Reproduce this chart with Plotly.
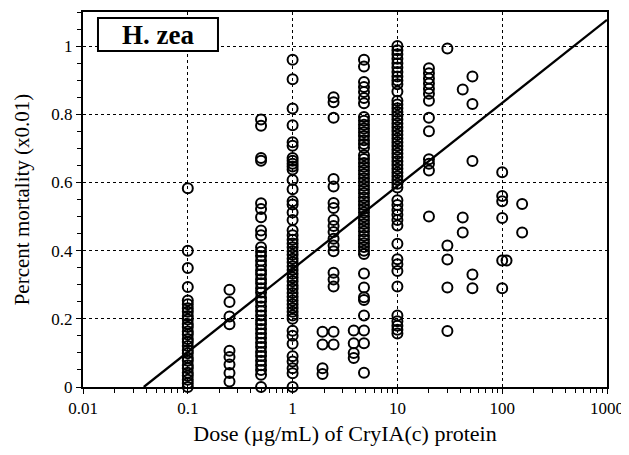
import plotly.graph_objects as go

# ---- data ----
dose_levels = [0.1, 0.25, 0.5, 1, 1.93, 2.46, 3.83, 4.8, 10, 20, 30, 42, 52, 100, 110, 155]

mort_d01 = [0.583, 0.40, 0.349, 0.293, 0.254, 0.243, 0.231, 0.221, 0.208, 0.198, 0.185, 0.176,
            0.163, 0.154, 0.141, 0.132, 0.12, 0.108, 0.099, 0.086, 0.077, 0.064, 0.055, 0.042,
            0.033, 0.021, 0.011, 0.0]
mort_d025 = [0.285, 0.249, 0.207, 0.184, 0.106, 0.088, 0.066, 0.041, 0.016]
mort_d05 = [0.785, 0.766, 0.672, 0.664, 0.539, 0.522, 0.498, 0.459, 0.445, 0.41, 0.397, 0.384,
            0.37, 0.357, 0.342, 0.331, 0.316, 0.304, 0.29, 0.277, 0.262, 0.251, 0.236, 0.223,
            0.21, 0.196, 0.184, 0.17, 0.157, 0.144, 0.13, 0.117, 0.103, 0.091, 0.077, 0.064,
            0.05, 0.036, 0.0]
mort_d1 = [0.96, 0.903, 0.817, 0.768, 0.718, 0.708, 0.672, 0.664, 0.655, 0.647, 0.638, 0.607,
           0.58, 0.545, 0.535, 0.512, 0.49, 0.46, 0.445, 0.432, 0.421, 0.41, 0.398, 0.388,
           0.376, 0.366, 0.354, 0.343, 0.332, 0.321, 0.31, 0.298, 0.288, 0.276, 0.265, 0.254,
           0.243, 0.232, 0.221, 0.21, 0.2, 0.165, 0.15, 0.127, 0.09, 0.075, 0.055, 0.04, 0.0]
mort_d2 = [0.162, 0.125, 0.055, 0.038]
mort_d25 = [0.85, 0.835, 0.79, 0.61, 0.588, 0.54, 0.525, 0.49, 0.472, 0.455, 0.435, 0.415,
            0.398, 0.335, 0.315, 0.295, 0.162, 0.125]
mort_d4 = [0.166, 0.128, 0.1, 0.085]
mort_d5 = [0.96, 0.94, 0.895, 0.88, 0.865, 0.848, 0.832, 0.792, 0.781, 0.769, 0.758, 0.747,
           0.736, 0.724, 0.713, 0.702, 0.68, 0.669, 0.657, 0.646, 0.635, 0.624, 0.612, 0.601,
           0.59, 0.579, 0.568, 0.556, 0.545, 0.534, 0.523, 0.512, 0.5, 0.489, 0.478, 0.467,
           0.456, 0.444, 0.433, 0.422, 0.411, 0.4, 0.39, 0.333, 0.292, 0.263, 0.255, 0.21,
           0.166, 0.128, 0.042]
mort_d10 = [1.0, 0.988, 0.976, 0.963, 0.95, 0.937, 0.924, 0.911, 0.899, 0.888, 0.867, 0.84,
            0.829, 0.818, 0.807, 0.796, 0.785, 0.773, 0.762, 0.751, 0.74, 0.729, 0.718, 0.707,
            0.696, 0.685, 0.674, 0.662, 0.651, 0.64, 0.629, 0.618, 0.607, 0.596, 0.585, 0.548,
            0.534, 0.519, 0.505, 0.49, 0.474, 0.42, 0.375, 0.36, 0.34, 0.295, 0.21, 0.193,
            0.18, 0.168, 0.157]
mort_d20 = [0.935, 0.92, 0.905, 0.89, 0.875, 0.86, 0.84, 0.79, 0.75, 0.668, 0.655, 0.635, 0.50]
mort_d30 = [0.993, 0.415, 0.374, 0.292, 0.164]
mort_d42 = [0.873, 0.497, 0.453]
mort_d52 = [0.911, 0.83, 0.663, 0.33, 0.29]
mort_d100 = [0.63, 0.56, 0.545, 0.496, 0.371, 0.29]
mort_d110 = [0.371]
mort_d155 = [0.537, 0.453]

mortality_columns = [mort_d01, mort_d025, mort_d05, mort_d1, mort_d2, mort_d25, mort_d4,
                     mort_d5, mort_d10, mort_d20, mort_d30, mort_d42, mort_d52, mort_d100,
                     mort_d110, mort_d155]

# fitted regression line end points
fit_x = [0.038, 1000]
fit_y = [0.0, 1.077]

x_tickvals = [0.01, 0.1, 1, 10, 100, 1000]
x_ticktext = ["0.01", "0.1", "1", "10", "100", "1000"]
y_tickvals = [0, 0.2, 0.4, 0.6, 0.8, 1.0]
y_ticktext = ["0", "0.2", "0.4", "0.6", "0.8", "1"]

xs, ys = [], []
for d, col in zip(dose_levels, mortality_columns):
    xs += [d] * len(col)
    ys += col

FONT = "Liberation Serif, Times New Roman, serif"

fig = go.Figure()
fig.add_trace(go.Scatter(
    x=xs, y=ys, mode="markers", cliponaxis=False,
    marker=dict(symbol="circle-open", size=10, color="black", line=dict(width=2, color="black")),
    showlegend=False, hoverinfo="skip"))
fig.add_trace(go.Scatter(
    x=fit_x, y=fit_y, mode="lines", line=dict(color="black", width=2.3),
    showlegend=False, hoverinfo="skip"))

# the page body adds an 8px offset, so the figure is 621x447 placed at (8,8)
fig.update_layout(
    width=621, height=447,
    margin=dict(l=75, r=22, t=4, b=68, autoexpand=False),
    paper_bgcolor="white", plot_bgcolor="white",
    font=dict(family=FONT, color="black", size=17),
    xaxis=dict(
        type="log", range=[-2, 3],
        tickvals=x_tickvals, ticktext=x_ticktext,
        ticks="outside", ticklen=5, tickwidth=1.3, tickcolor="black",
        minor=dict(ticks="outside", ticklen=4, tickwidth=1.1, tickcolor="black", dtick="D1", showgrid=False),
        showline=True, linecolor="black", linewidth=2, mirror=True,
        showgrid=True, gridcolor="black", griddash="dot", gridwidth=1.4,
        zeroline=False, automargin=False,
        tickfont=dict(size=17, family=FONT),
        title=dict(text="Dose (µg/mL) of CryIA(c) protein", font=dict(size=22, family=FONT), standoff=8),
    ),
    yaxis=dict(
        range=[0, 1.1],
        tickvals=y_tickvals, ticktext=y_ticktext,
        ticks="outside", ticklen=5, tickwidth=1.3, tickcolor="black",
        minor=dict(ticks="outside", ticklen=4, tickwidth=1.1, tickcolor="black", dtick=0.05, showgrid=False),
        showline=True, linecolor="black", linewidth=2, mirror=True,
        showgrid=True, gridcolor="black", griddash="dot", gridwidth=1.4,
        zeroline=False, automargin=False,
        tickfont=dict(size=17, family=FONT),
        title=dict(text="Percent mortality (x0.01)", font=dict(size=21, family=FONT), standoff=16),
    ),
    shapes=[dict(type="rect", xref="paper", yref="paper",
                 x0=0.0286, x1=0.2576, y0=0.896, y1=0.984,
                 line=dict(color="black", width=2), fillcolor="white", layer="above")],
    annotations=[dict(text="<b>H. zea</b>", xref="paper", yref="paper", x=0.143, y=0.94,
                      xanchor="center", yanchor="middle", showarrow=False,
                      font=dict(size=27, family=FONT, color="black"))],
)

fig.write_html("out.html")
